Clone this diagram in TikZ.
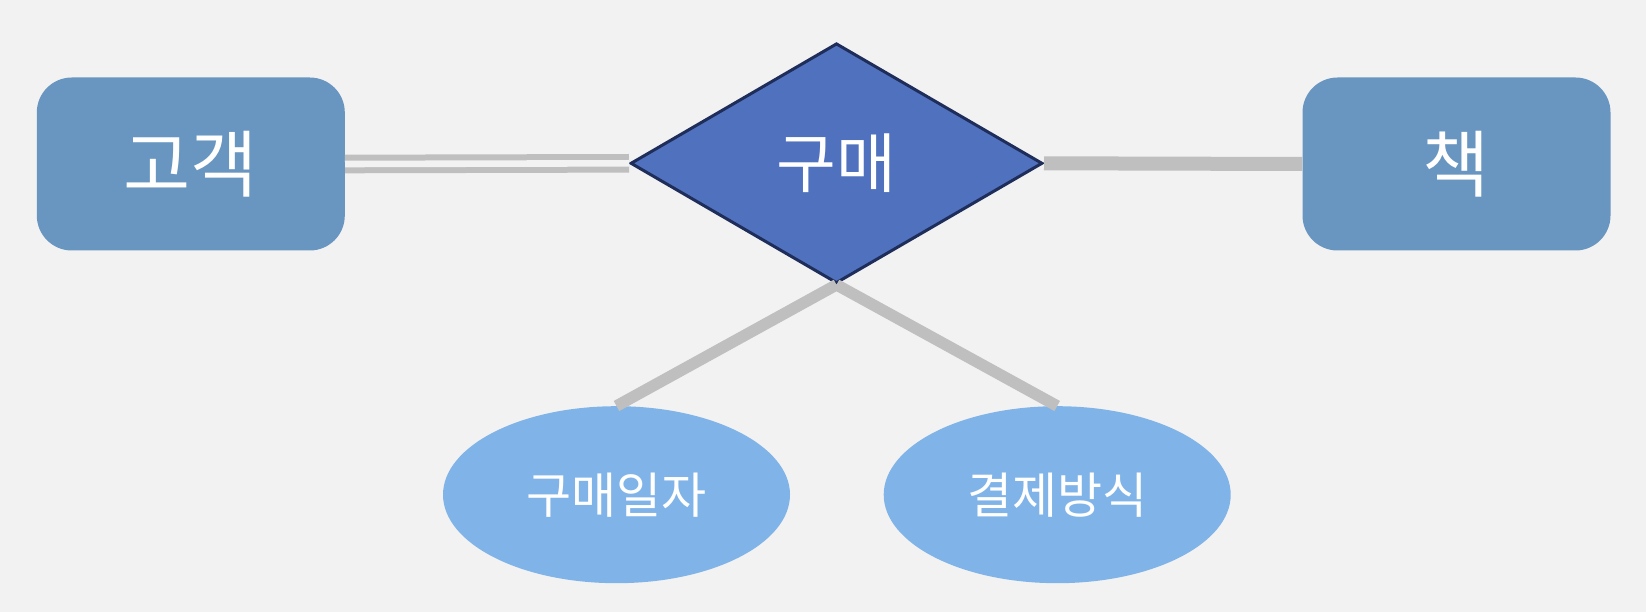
\documentclass[tikz,border=0pt]{standalone}
\usepackage{fontspec}
\newfontfamily\kr{Noto Sans CJK KR}
\usetikzlibrary{shapes.geometric}
\definecolor{bgc}{HTML}{F2F2F2}
\definecolor{entc}{HTML}{6896C0}
\definecolor{relc}{HTML}{5072BE}
\definecolor{reldraw}{HTML}{1F2D5A}
\definecolor{attc}{HTML}{80B4E8}
\definecolor{linec}{HTML}{BFBFBF}
\tikzset{
  entity/.style={fill=entc, rounded corners=35pt, minimum width=308pt, minimum height=173pt, inner sep=0pt, text=white, font=\kr\fontsize{73}{80}\selectfont},
  relation/.style={diamond, fill=relc, draw=reldraw, line width=3pt, minimum width=412pt, minimum height=240pt, inner sep=0pt, text=white, font=\kr\fontsize{65}{72}\selectfont},
  attribute/.style={ellipse, fill=attc, minimum width=347pt, minimum height=177pt, inner sep=0pt, text=white, font=\kr\fontsize{49}{55}\selectfont},
  conn/.style={draw=linec, line cap=butt},
}
\begin{document}
\begin{tikzpicture}[x=1pt,y=-1pt]
\fill[bgc] (0,0) rectangle (1646,612);
\useasboundingbox (0,0) rectangle (1646,612);
\node[entity] (customer) at (190.8,164) {고객};
\node[entity] (book) at (1456.5,164) {책};
\node[relation] (purchase) at (836.5,163.3) {구매};
\node[attribute] (date) at (616.5,494.7) {구매일자};
\node[attribute] (pay) at (1057.2,494.7) {결제방식};
\draw[conn, line width=6pt, double=bgc, double distance=6.6pt] (customer.east) -- (purchase.west);
\draw[conn, line width=14pt] (purchase.east) -- (book.west);
\draw[conn, line width=11.5pt] (purchase.south) -- (date.north);
\draw[conn, line width=11.5pt] (purchase.south) -- (pay.north);
\end{tikzpicture}
\end{document}
